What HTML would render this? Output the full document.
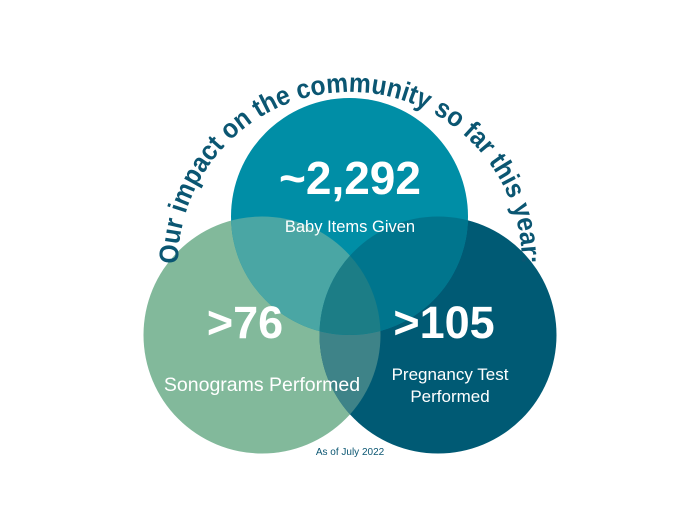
<!DOCTYPE html>
<html><head><meta charset="utf-8"><style>
html,body{margin:0;padding:0;background:#fff;}
svg{display:block;}
</style></head><body>
<svg width="700" height="525" viewBox="0 0 700 525" xmlns="http://www.w3.org/2000/svg">
<defs>
<clipPath id="cT"><circle cx="349.5" cy="216.5" r="118.5"/></clipPath>
<clipPath id="cL"><circle cx="262" cy="335" r="118.5"/></clipPath>
<path id="arc" d="M 180.3 292 A 172 172 0 1 1 519.7 292"/>
</defs>
<circle cx="262" cy="335" r="118.5" fill="#82b99b"/>
<circle cx="438" cy="335" r="118.5" fill="#005a74"/>
<circle cx="438" cy="335" r="118.5" fill="#3e8388" clip-path="url(#cL)"/>
<circle cx="349.5" cy="216.5" r="118.5" fill="#008ea6"/>
<g clip-path="url(#cT)">
<circle cx="262" cy="335" r="118.5" fill="#4aa6a4"/>
<circle cx="438" cy="335" r="118.5" fill="#00758d"/>
<g clip-path="url(#cL)"><circle cx="438" cy="335" r="118.5" fill="#1c7d86"/></g>
</g>
<text font-family="Liberation Sans, sans-serif" font-weight="bold" font-size="27" fill="#0b5672">
<textPath href="#arc" startOffset="50%" text-anchor="middle" textLength="540" lengthAdjust="spacingAndGlyphs">Our impact on the community so far this year:</textPath></text>
<g font-family="Liberation Sans, sans-serif" fill="#fff" text-anchor="middle">
<text x="350" y="194" font-size="46" font-weight="bold">~2,292</text>
<text x="350" y="232" font-size="16.5">Baby Items Given</text>
<text x="245" y="338" font-size="45" font-weight="bold">&gt;76</text>
<text x="262" y="391" font-size="19.5">Sonograms Performed</text>
<text x="444" y="338" font-size="45" font-weight="bold">&gt;105</text>
<text x="450" y="380" font-size="17">Pregnancy Test</text>
<text x="450" y="402" font-size="17">Performed</text>
</g>
<text x="350" y="455" font-family="Liberation Sans, sans-serif" font-size="10" fill="#0b5672" text-anchor="middle">As of July 2022</text>
</svg>
</body></html>
